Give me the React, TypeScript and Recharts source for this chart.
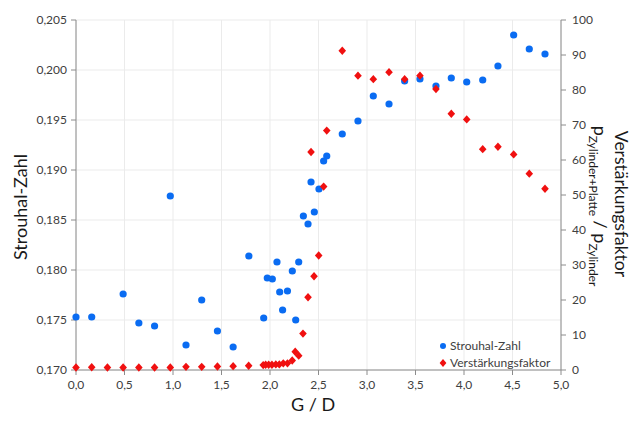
import React from "react";
import {
  ScatterChart,
  Scatter,
  XAxis,
  YAxis,
  CartesianGrid,
  Label,
} from "recharts";

// ---- data ----
const strouhalGD = [
  0, 0.162, 0.486, 0.648, 0.81, 0.972, 1.134, 1.296, 1.458, 1.62, 1.782,
  1.935, 1.972, 2.024, 2.072, 2.1, 2.13, 2.18, 2.23, 2.265, 2.296, 2.344,
  2.392, 2.423, 2.457, 2.505, 2.553, 2.585, 2.745, 2.907, 3.065, 3.227,
  3.388, 3.546, 3.711, 3.869, 4.028, 4.193, 4.35, 4.512, 4.673, 4.835,
];
const strouhalValues = [
  0.1753, 0.1753, 0.1776, 0.1747, 0.1744, 0.1874, 0.1725, 0.177, 0.1739,
  0.1723, 0.1814, 0.1752, 0.1792, 0.1791, 0.1808, 0.1778, 0.176, 0.1779,
  0.1799, 0.175, 0.1808, 0.1854, 0.1846, 0.1888, 0.1858, 0.1881, 0.1909,
  0.1914, 0.1936, 0.1949, 0.1974, 0.1966, 0.1989, 0.1991, 0.1984, 0.1992,
  0.1988, 0.199, 0.2004, 0.2035, 0.2021, 0.2016,
];
const factorGD = [
  0, 0.162, 0.324, 0.486, 0.648, 0.81, 0.972, 1.134, 1.296, 1.458, 1.62,
  1.78, 1.93, 1.955, 1.986, 2.02, 2.06, 2.096, 2.137, 2.18, 2.229, 2.26,
  2.296, 2.34, 2.392, 2.423, 2.454, 2.502, 2.553, 2.585, 2.745, 2.907,
  3.065, 3.227, 3.388, 3.546, 3.711, 3.869, 4.028, 4.193, 4.35, 4.512,
  4.673, 4.835,
];
const factorValues = [
  0.7, 0.8, 0.7, 0.7, 0.7, 0.7, 0.7, 0.9, 0.9, 1.0, 1.1, 1.2, 1.4, 1.5,
  1.5, 1.5, 1.6, 1.6, 1.9, 1.9, 2.7, 5.2, 4.1, 10.4, 20.8, 62.3, 26.8,
  32.7, 52.4, 68.4, 91.2, 84.1, 83.1, 85.1, 83.1, 84.1, 80.3, 73.2, 71.6,
  63.1, 63.8, 61.6, 56.1, 51.8,
];
const xTicks = [0, 0.5, 1, 1.5, 2, 2.5, 3, 3.5, 4, 4.5, 5];
const leftTicks = [0.17, 0.175, 0.18, 0.185, 0.19, 0.195, 0.2, 0.205];
const rightTicks = [0, 10, 20, 30, 40, 50, 60, 70, 80, 90, 100];
const seriesNames = ["Strouhal-Zahl", "Verstärkungsfaktor"];

const strouhalData = strouhalGD.map((x, i) => ({ x, y: strouhalValues[i] }));
const factorData = factorGD.map((x, i) => ({ x, y: factorValues[i] }));

// ---- styles ----
const FONT = "Lato, 'Open Sans', sans-serif";
const BLUE = "#0a6cf2";
const RED = "#f01010";
const AXIS = "#8c8c8c";
const GRID = "#ebebeb";
const TICK_COLOR = "#404040";
const TITLE_COLOR = "#1a1a1a";

const Circle = (props: any) => {
  const { cx, cy } = props;
  if (cx == null || cy == null) return null;
  return <circle cx={cx} cy={cy} r={3.6} fill={BLUE} />;
};
const Diamond = (props: any) => {
  const { cx, cy } = props;
  if (cx == null || cy == null) return null;
  const w = 3.8;
  const h = 4.2;
  return (
    <polygon
      points={`${cx},${cy - h} ${cx + w},${cy} ${cx},${cy + h} ${cx - w},${cy}`}
      fill={RED}
    />
  );
};

const comma = (d: number) => (v: number) => v.toFixed(d).replace(".", ",");

const tickStyle = { fontSize: 12, fill: TICK_COLOR, fontFamily: FONT };

export default function App() {
  return (
    <div style={{ position: "absolute", left: 0, top: 0, width: 634, height: 424, background: "#fff" }}>
      <ScatterChart
        width={634}
        height={424}
        margin={{ top: 20, right: 0, bottom: 0, left: 0 }}
      >
        <CartesianGrid stroke={GRID} yAxisId="left" />
        <XAxis
          type="number"
          dataKey="x"
          domain={[0, 5]}
          ticks={xTicks}
          tickFormatter={comma(1)}
          height={54}
          stroke={AXIS}
          tick={tickStyle}
          tickSize={5}
          tickMargin={5}
          interval={0}
        >
          <Label
            content={() => (
              <text
                x={313}
                y={411}
                textAnchor="middle"
                fontSize={18}
                fontFamily={FONT}
                fill={TITLE_COLOR}
              >
                G / D
              </text>
            )}
          />
        </XAxis>
        <YAxis
          yAxisId="left"
          type="number"
          dataKey="y"
          domain={[0.17, 0.205]}
          ticks={leftTicks}
          tickFormatter={comma(3)}
          width={76}
          stroke={AXIS}
          tick={tickStyle}
          tickSize={5}
          tickMargin={4}
          interval={0}
        >
          <Label
            content={() => (
              <text
                x={27}
                y={207}
                transform="rotate(-90, 27, 207)"
                textAnchor="middle"
                fontSize={18}
                fontFamily={FONT}
                fill={TITLE_COLOR}
              >
                Strouhal-Zahl
              </text>
            )}
          />
        </YAxis>
        <YAxis
          yAxisId="right"
          orientation="right"
          type="number"
          dataKey="y"
          domain={[0, 100]}
          ticks={rightTicks}
          width={73}
          stroke={AXIS}
          tick={tickStyle}
          tickSize={5}
          tickMargin={6}
          interval={0}
        >
          <Label
            content={() => (
              <g>
                <text
                  x={615}
                  y={204}
                  transform="rotate(90, 615, 204)"
                  textAnchor="middle"
                  fontSize={17.5}
                  fontFamily={FONT}
                  fill={TITLE_COLOR}
                >
                  Verstärkungsfaktor
                </text>
                <text
                  x={594}
                  y={206}
                  transform="rotate(90, 594, 206)"
                  textAnchor="middle"
                  fontSize={18}
                  fontFamily={FONT}
                  fill={TITLE_COLOR}
                >
                  p
                  <tspan fontSize={12} dy={5}>Zylinder+Platte</tspan>
                  <tspan fontSize={18} dy={-5}> / p</tspan>
                  <tspan fontSize={12} dy={5}>Zylinder</tspan>
                </text>
              </g>
            )}
          />
        </YAxis>
        <Scatter
          name={seriesNames[0]}
          data={strouhalData}
          yAxisId="left"
          fill={BLUE}
          shape={Circle}
          isAnimationActive={false}
        />
        <Scatter
          name={seriesNames[1]}
          data={factorData}
          yAxisId="right"
          fill={RED}
          shape={Diamond}
          isAnimationActive={false}
        />
      </ScatterChart>
      <div
        style={{
          position: "absolute",
          left: 438,
          top: 337,
          fontFamily: FONT,
          fontSize: 12,
          color: TICK_COLOR,
          lineHeight: "17px",
        }}
      >
        <div style={{ display: "flex", alignItems: "center", whiteSpace: "nowrap" }}>
          <svg width={10} height={10} style={{ marginRight: 2 }}>
            <circle cx={5} cy={5} r={3} fill={BLUE} />
          </svg>
          {seriesNames[0]}
        </div>
        <div style={{ display: "flex", alignItems: "center", whiteSpace: "nowrap" }}>
          <svg width={10} height={10} style={{ marginRight: 2 }}>
            <polygon points="5,1 8.4,5 5,9 1.6,5" fill={RED} />
          </svg>
          {seriesNames[1]}
        </div>
      </div>
    </div>
  );
}
